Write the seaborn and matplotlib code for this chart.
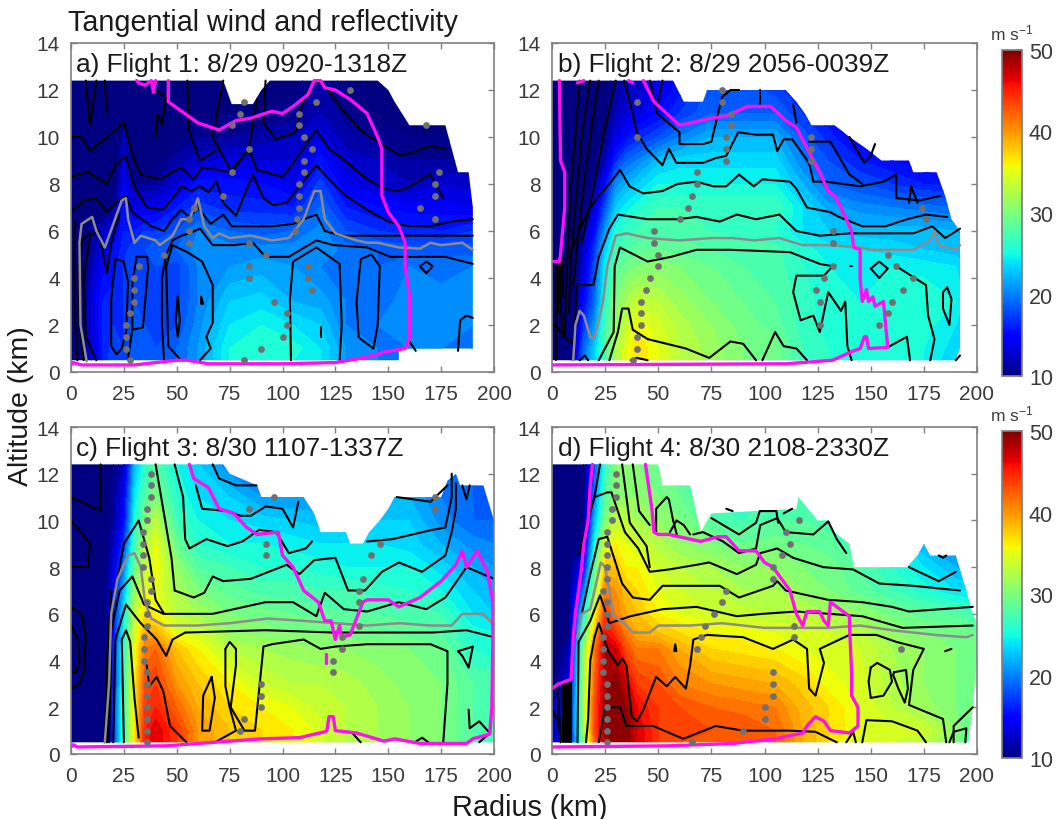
import numpy as np
import matplotlib
matplotlib.use('Agg')
import matplotlib.pyplot as plt
from matplotlib.patches import Polygon
from matplotlib.colors import Normalize
from matplotlib.cm import ScalarMappable
import seaborn as sns

sns.set_theme(style='ticks')
plt.rcParams['font.family'] = ['Liberation Sans', 'DejaVu Sans']
plt.rcParams['mathtext.default'] = 'regular'

# Grid the wind values were read on
radius = [0, 8, 15, 20, 25, 30, 35, 40, 50, 60, 75, 90, 105, 118, 130, 145, 160, 175, 190, 200]
altitude = [0.5, 1, 2, 3, 4.5, 5.2, 6, 7, 8, 9, 10, 11, 12.4]

wind_a = [
    [4, 12, 16, 18, 17, 19, 19, 18, 19, 21, 25, 26, 25, 24, 21, 20, 19, 19, 19, 19],
    [4, 12, 16, 17.5, 17, 18.5, 19, 18, 19, 21, 25, 26, 25.5, 24, 21, 20, 20, 20, 19, 19],
    [4, 12, 16, 17, 17, 18.5, 18, 18, 18, 20.5, 24, 25, 24, 23, 20, 20, 20.5, 20.5, 20, 20],
    [4, 12, 16, 16.5, 17, 18, 17.5, 18, 17.5, 20, 23, 23.5, 22, 21.5, 20, 19.5, 20.5, 20.5, 20.5, 20.5],
    [4, 11, 14.5, 15.5, 17, 18, 18, 18, 17.5, 20, 21, 21.5, 21, 20, 19.5, 19, 20, 19.5, 20, 20],
    [4, 10, 13.5, 15, 16.5, 18, 18, 19, 19, 20.5, 20.5, 20.5, 20.5, 21, 19.5, 19, 18.5, 18.5, 18.5, 18],
    [4, 11, 12.5, 13.5, 16, 16, 17, 17, 18, 20, 19, 18.5, 19, 20.5, 18, 17, 16.5, 16, 17, 17],
    [4, 8, 9, 10.5, 15.5, 13.5, 14, 14, 16, 17.5, 16.5, 16.5, 16, 19, 16, 15, 14.5, 14.5, 14, 14],
    [3, 7, 8, 9, 14, 11, 11, 11, 13, 15.5, 15.5, 15, 14, 17.5, 14, 13, 12, 13, 12.5, 12],
    [3, 6, 7, 8, 13, 9.5, 9, 9.5, 11.5, 12.5, 13.5, 13, 13, 15.5, 12.5, 12, 11, 11, 11, 10.5],
    [3, 6, 7, 7, 12, 8, 7.5, 8, 9.5, 11, 11, 11.5, 12, 13.5, 11.5, 11, 10, 10, 9, 9],
    [2, 5, 7, 6, 8, 7, 6, 7, 8, 9.5, 10, 10, 10.5, 12, 10.5, 9.5, 9, 9, 8, 8],
    [2, 5, 7, 6, 7, 6, 6, 6, 7, 8, 9, 9, 9.5, 11, 9.5, 9, 8, 8, 8, 8],
]
wind_b = [
    [5, 9, 20, 23, 27, 32, 35, 37, 35, 33, 31.5, 30, 29.5, 26.5, 26, 25.5, 25.5, 25, 23, 22],
    [5, 9, 19, 23, 28, 32, 35, 37, 35, 33, 31.5, 30, 29.5, 27, 26, 25.5, 25.5, 25, 23.5, 22],
    [5, 8, 17, 21, 27, 31, 33.5, 35.5, 34.5, 32.5, 31, 29.5, 28.5, 26.5, 25.5, 25, 25.5, 25.5, 24, 22.5],
    [5, 8, 15, 19, 26, 30, 32, 33.5, 33, 31.5, 30, 29, 28, 26.5, 25.5, 25, 25.5, 26, 25, 22.5],
    [5, 7, 13, 18, 24.5, 28, 29.5, 30, 30.5, 30, 29, 28, 27.5, 26, 25, 24.5, 25, 24.5, 24, 22],
    [4, 7, 12.5, 17, 23, 27, 28, 28.5, 29, 28.5, 28, 27.5, 27.5, 25.5, 24.5, 24, 23.5, 23, 22.5, 22],
    [4, 6, 11.5, 15, 21, 25.5, 26.5, 27, 27.5, 27.5, 27, 26.5, 26, 24, 23, 22.5, 22.5, 22.5, 22, 20],
    [3, 6, 10, 13, 18, 23, 24.5, 25.5, 27, 27, 27, 27, 27, 24, 21.5, 20.5, 20, 19.5, 19, 17.5],
    [3, 6, 9, 11, 15, 20.5, 22, 23, 25, 25, 25, 25, 25, 22, 19, 18, 17, 16, 16, 15],
    [3, 5, 8, 10, 12, 16.5, 19, 20, 22.5, 23.5, 23.5, 23.5, 23.5, 20, 18, 16, 15, 14, 13, 12],
    [3, 5, 7, 9, 10.5, 13.5, 15, 16.5, 18, 20, 22, 22, 22, 18.5, 16.5, 14, 12.5, 11, 10, 10],
    [2, 5, 7, 8, 9.5, 12, 13, 13.5, 15, 17, 19, 19, 19, 17, 15, 13, 11, 10, 10, 10],
    [2, 5, 7, 7, 9, 11, 12, 12, 14, 15, 18, 18, 17, 15, 14, 12, 10, 10, 10, 10],
]
wind_c = [
    [5, 5, 8, 17, 27, 36, 45, 47, 44, 40, 38, 37, 36, 34, 33, 32, 31, 30, 28, 28],
    [5, 5, 8, 17, 27, 36, 45, 47, 44, 40, 38, 37, 36, 34.5, 33, 32, 31, 30, 28, 28],
    [5, 5, 8, 17, 27, 36, 44, 45, 42, 39, 37, 36, 35, 33.5, 33, 32, 31, 30, 28, 28],
    [5, 4, 8, 16, 27, 36, 43, 44, 40, 38, 36, 34, 33, 33, 32.5, 31.5, 30.5, 30, 28, 28],
    [4, 4, 7, 16, 26, 35, 41, 42, 38, 36, 33, 32, 31.5, 31, 31, 30.5, 30, 29, 26, 25],
    [4, 3, 7, 15, 25, 34, 39, 39, 35, 34, 31, 30.5, 30, 30, 29.5, 29, 28.5, 28, 25.5, 25],
    [4, 4, 8, 15, 24, 33, 37, 36, 33, 32, 30, 29.5, 29, 28.5, 28, 28, 27.5, 27, 24, 23],
    [5, 6, 9, 14, 22, 31, 35, 35, 32, 30, 28.5, 27.5, 27.5, 27, 27, 26.5, 26, 25, 23, 22],
    [5, 8, 9, 13, 20, 29, 33, 36, 31, 28, 27, 26, 26, 25.5, 25, 25, 25, 23.5, 22, 21],
    [5, 7, 9, 12, 17, 27, 32, 35, 29, 26, 25, 25, 24.5, 24, 24, 24, 23.5, 22, 20.5, 20],
    [6, 7, 8, 11, 15, 25, 30, 33, 27, 25, 24, 23.5, 23, 22.5, 23, 23, 23, 20.5, 19, 19],
    [5, 7, 8, 11, 14, 24, 28, 30, 26, 24, 23, 21, 21, 21, 22, 22, 22, 20, 19, 18],
    [5, 6, 7, 10, 12, 22, 26, 28, 25, 23, 20, 20, 20, 20, 21, 21, 21, 20, 19, 18],
]
wind_d = [
    [12, 14, 30, 42, 48, 50, 50, 47, 44, 43, 43, 43, 42, 39, 37, 34, 34, 33, 30, 26],
    [12, 14, 32, 43, 49, 50, 50, 47, 44, 44, 43, 43, 42, 39, 37, 35, 34.5, 34, 31, 27],
    [12, 14, 32, 43, 49, 50, 49, 46, 44, 43, 42, 41.5, 41, 38.5, 37, 35, 33, 31.5, 30, 29],
    [10, 13, 32, 42, 48.5, 50, 47, 44, 43, 41, 40, 39.5, 39, 37.5, 35.5, 34.5, 32.5, 31, 30, 29],
    [8, 12, 31, 41, 48, 47, 43, 41, 41, 39, 37, 36.5, 36, 35, 34.5, 34, 32, 31, 30, 29],
    [8, 10, 28, 38, 46, 44, 41, 39, 38, 37, 36, 35.5, 35, 34.5, 34, 33, 31, 30, 29.5, 29],
    [8, 10, 25, 35, 44, 41, 39, 38, 36, 35, 34, 33.5, 33, 33, 32, 31, 29.5, 28.5, 28, 27],
    [8, 10, 20, 31, 41, 40, 38, 37, 35, 34, 33, 32, 32, 31, 30, 28.5, 27, 25.5, 24, 24],
    [8, 10, 15, 28, 38, 38, 36, 36, 34, 33, 32, 31, 31, 30, 29.5, 28, 26, 24, 22, 21],
    [6, 8, 12, 25, 34, 36, 35, 34, 32.5, 31, 30, 29, 29.5, 29, 28.5, 26.5, 25, 22, 20, 20],
    [6, 8, 10, 22, 30, 33, 33, 32, 31, 30, 28, 27, 28, 28, 27.5, 26, 25, 22, 20, 20],
    [6, 8, 10, 20, 28, 31, 31, 31, 30, 29, 26, 26, 27, 27, 26, 25, 24, 22, 20, 20],
    [6, 8, 10, 18, 26, 30, 30, 30, 30, 28, 26, 26, 26, 26, 25, 24, 23, 22, 20, 20],
]

# Outline of the sampled area (radius, altitude)
edge_a = [(0, 12.4), (72, 12.4), (76, 11.4), (86, 11.4), (90, 12), (94, 12.4), (145, 12.4), (150, 12), (153, 11.5),
          (160, 10.5), (177, 10.5), (180, 9.5), (183, 8.5), (188, 8.5), (190, 7), (190, 1), (155, 1), (155, 0.5), (0, 0.5)]
edge_b = [(0, 12.4), (57, 12.4), (62, 11.5), (71, 11.5), (73, 12), (110, 12), (115, 11.5), (119, 11), (122, 10.5),
          (133, 10.5), (140, 10), (148, 9.5), (155, 9), (168, 9), (170, 8.5), (181, 8.5), (185, 7.5), (188, 6.5),
          (192, 6), (192, 1), (190, 0.5), (0, 0.5)]
edge_c = [(0, 12.4), (72, 12.4), (75, 12), (88, 11.5), (90, 11), (110, 11), (115, 10.3), (118, 9.5), (130, 9.5),
          (132, 9), (138, 9), (141, 9.5), (146, 10), (150, 10.5), (153, 11), (175, 11), (178, 11.7), (182, 12),
          (184, 11.5), (195, 11.5), (200, 10), (200, 0.5), (0, 0.5)]
edge_d = [(0, 12.4), (50, 12.4), (52, 11.5), (65, 11.5), (70, 9.5), (75, 10.3), (115, 10.5), (116, 11), (125, 10),
          (130, 10), (133, 9.5), (140, 9), (142, 8), (167, 8), (172, 8.5), (175, 9), (178, 8.5), (190, 8.5), (195, 7),
          (198, 6), (200, 5.6), (200, 4), (198, 2), (196, 0.5), (0, 0.5)]

# Reflectivity contours, black
black_a = [
    [(44, .5), (43, 2), (43, 4), (45, 5), (48, 5.6), (52, 5.8), (56, 5.9), (61, 6.1), (67, 5.4), (77, 5.4), (86, 5.5), (92, 4.9),
     (103, 4.9), (116, 5.6), (124, 5.4), (140, 5.3), (151, 4.9), (168, 4.9), (177, 4.9), (190, 4.6)],
    [(0, 6.8), (6, 7.3), (12, 7.4), (17, 6.8), (21, 7.2), (26, 7.5), (29, 6.8), (32, 6.6), (38, 6.2), (44, 6), (48, 6.5), (52, 6.9),
     (56, 6.6), (60, 7), (66, 6.3), (72, 6.7), (76, 6.2), (85, 6.2), (95, 6.2), (105, 6.3), (110, 6.5), (116, 6.7), (120, 6),
     (128, 5.8), (150, 5.8), (175, 5.8), (190, 5.8)],
    [(0, 8.3), (8, 8.5), (17, 8), (21, 8.8), (26, 9.2), (30, 7.9), (36, 7), (43.6, 6.9), (52.3, 7.9), (57, 7.7), (61, 7.9), (65, 7.65),
     (68.8, 8.1), (72, 7.2), (78, 6.65), (86, 8.4), (91, 7.4), (95.6, 7.1), (102, 7.2), (108, 7.9), (116, 8.8), (122, 8.2), (130, 7.5),
     (140, 6.9), (150, 6.4), (160, 6.2), (170, 6.2), (180, 6.4), (190, 6.5)],
    [(0, 10), (5, 10), (9, 9.4), (16, 9.9), (25, 10.6), (30, 9), (33, 8.4), (42, 8.2), (52, 8.7), (58, 8.2), (62, 8.7), (70, 8.6),
     (75, 8.5), (84, 9.5), (88, 8.6), (100, 8.3), (106, 9), (116, 10.3), (122, 9.5), (128, 9.1), (140, 8.2), (148, 7.8), (155, 7.7),
     (160, 7.9), (170, 8.4), (176, 7.4)],
    [(7, 12.4), (9, 10.5), (12, 12.4)], [(16, 12.4), (17, 11)],
    [(40, 10), (41, 11), (43, 10.5), (45, 11.7), (40, 12)],
    [(55, 12.4), (56, 10.2), (61, 9), (70, 9.5)],
    [(72, 12.4), (67, 10), (76, 8.5), (84, 9.5), (88, 11.6)],
    [(92, 12.4), (91, 10.6), (97, 9.9), (106, 10.2), (110, 11.6), (115, 12.4)],
    [(116, 12.4), (120, 12.2), (128, 11.2), (138, 10.2), (156, 9.2), (170, 9.6), (177, 9.5)],
    [(46, 1.1), (45, 4.5), (48, 5.4), (55, 5.1), (62, 4.7), (67, 3.7), (67, 2.1), (64, 1.5), (66, 1), (61, .5)],
    [(46, 1.1), (51, .6), (52, .5)],
    [(21, 4.8), (19, 3.1), (19, 1.1), (21.5, .75), (24, 1), (26, 1.7), (27, 3.8), (25, 4.7), (21, 4.8)],
    [(31, 4.9), (36, 4.9), (36.5, 4.5), (34, 1.9), (29, 1.8), (27, .6)], [(31, 4.9), (29, 3.8), (29, 1.8)],
    [(50.5, 3.2), (51.5, 2.2), (50.5, 1.5), (49.5, 2.2), (50.5, 3.2)],
    [(61.5, 3.2), (62.5, 2.9), (61.5, 2.9), (61.5, 3.2)], [(118, 1.9), (118, 1.5)],
    [(104, .5), (103.5, 3.1), (105, 4.7), (116, 5.3), (127, 4.6), (128, 2), (127, .5)],
    [(136, 1.5), (135, 3), (137, 4.8), (142, 5), (146, 4.5), (145, 2), (143, 1), (137, 1.4), (136, 1.5)],
    [(165, 4.5), (168, 4.7), (171, 4.5), (168, 4.2), (165, 4.5)],
    [(183, .9), (184, 2.2), (187, 2.4), (190, 2.3)], [(160, 1.3), (163, .9)],
    [(3, .5), (2, 2), (1.5, 5), (2, 6.5)], [(6, .5), (4, 2), (3.5, 4), (5, 5.6), (9, 6)],
    [(12, .5), (7, 1.5), (6, 4), (9, 5.8), (13, 6), (17, 4.2), (19, 5.5), (23, 6.7)],
]
black_b = [
    [(22, .5), (29, 1.7), (29.5, 4.5), (32, 5.3), (45, 4.7), (56, 4.9), (68, 5.2), (84, 5.2), (112, 5.1), (126, 4.6), (132, 4.5),
     (128, 4.1), (115, 4.1), (113.5, 3.4), (117, 2.2), (123, 2.4), (126, 1.7), (130, 3.4), (136, 2.6), (138, 3), (139, 1.1), (141, .5)],
    [(162, 4.5), (176, 3.7), (177, 2.4), (180, 1.4), (178, .5)], [(140, 4.5), (141, 4.5)],
    [(150, 4.4), (154, 4.7), (158, 4.4), (154, 4), (150, 4.4)],
    [(186, 3.6), (188, 3.1), (187, 2), (184, 2.7), (184, 3.4), (186, 3.6)],
    [(27, .5), (31, 1.7), (33, 2.7), (36, 2.7), (38, 1.8), (45, 1.4), (63, 1), (74, .6), (84, 1.3), (90, 1.2), (96, .5)],
    [(99, .5), (105, 1.7), (109, 1.1), (115, 1), (120, .5)], [(157, 1), (167, 1.5), (168.5, .5)],
    [(37, .5), (40, .6), (45, .5)], [(13, .5), (15.5, .7), (17, .5)], [(190, .5), (192, .7)],
    [(1, 2), (7, 1.4), (10, 1.2), (11, 2.5), (12, 3.7), (19.5, 3.7), (22, 4.9), (27, 6.1), (31, 6.7), (45, 6.5), (59, 6.5), (68, 6.6),
     (79, 6.4), (87, 6.7), (96, 6.5), (107, 6.7), (115, 6), (126, 5.8), (140, 5.9), (170, 5.9), (179, 6.2), (185, 5.7), (192, 6.1)],
    [(8, 4.9), (16, 6.7), (21, 7.4), (27, 8), (32, 8.6), (36.5, 7.9), (43, 7.6), (52, 7.7), (59, 8), (68, 8.1), (76, 7.9), (82, 7.9),
     (88, 8.4), (95, 7.9), (99, 8.2), (112, 8.1), (115, 7.8), (120, 7), (131, 6.8), (135, 6.6), (146, 6.2), (157, 6.2), (167, 6.5),
     (176, 6.7), (186, 6.6)],
    [(34, 12.4), (38, 11), (40, 10.2), (44.5, 9.5), (52, 8.8), (55, 9.5), (58.5, 8.9), (71, 8.9), (77, 9.1), (82, 9.2), (87.6, 10.2),
     (96, 10.1), (104, 10.1), (106, 9.4), (109, 9.9), (113, 9.9), (121, 8.9), (123, 8.1), (129, 8.1), (145, 7.9), (156, 8.1),
     (162, 8.4), (162, 7.4), (173, 7.3), (183, 7.5)],
    [(46, 12.4), (49.5, 11), (60, 10.2), (60, 9.7), (71, 9.7), (75, 9.8), (80, 11.7), (84, 12), (88, 12)],
    [(98, 12), (98, 11.4)], [(113.5, 11.4), (115, 10.6)],
    [(140, 10), (147, 8.9), (150, 9.2), (152, 9.7)], [(121, 9.8), (131, 9.8), (140, 8.4), (146, 8)],
    [(168, 7.2), (169, 7.9), (172, 7.2)], [(52, 12.4), (50, 11.5)],
    [(6, 1.5), (7, 4.5), (9, 8), (11, 10), (13, 12.4)], [(8, 2.5), (9, 5), (12, 8), (14, 10), (18, 12.4)],
    [(10, 3.7), (12, 5.5), (15, 8), (18, 10), (22, 12.4)], [(14, 5.5), (20, 8), (24, 10), (30, 12.4)],
    [(2, 4.5), (2, .5)], [(3, 4.5), (3, 2.5)], [(4, 4.8), (4, 3), (5, 1.5)], [(5, 4.8), (5, 3.2)],
]
black_c = [
    [(25, .5), (24, 4.9), (26, 5.3), (28, 4.8), (30, 2.4), (32, .7)],
    [(20, .5), (21, 4.9), (26, 6.4), (33, 5.6), (40.5, 4.9), (45, 4.2), (48, 4.9), (54, 5.2), (92, 5.3), (124, 5.2), (171, 5.2),
     (187, 5.3), (200, 5)],
    [(18, .5), (19, 5.3), (23, 7), (29, 7.6), (34.5, 6.4), (43.7, 6), (67, 6), (92, 6.5), (105, 6.5), (116, 5.9), (120, 6.9), (129, 6.2),
     (140, 6.1), (155, 6.5), (168, 6.2), (177, 6.7), (187, 8), (200, 7.5)],
    [(17, .5), (19, 6), (25, 9), (32, 10), (37, 8.4), (40, 6.6), (44, 6)],
    [(40, 12.4), (47.5, 8.4), (49, 7), (58, 6.7), (63, 6.9), (67, 7.6), (72, 7.4), (85, 7.5), (102, 8.1), (108, 7.7), (115, 8.3),
     (125, 8.4), (131, 7), (139, 7), (147, 7.8), (155, 8.2), (166, 7.8), (177, 8.5), (180, 9.5), (182, 10.5), (182, 11.6)],
    [(49, 12.4), (53, 11), (54, 9.2), (56, 8.8), (64, 9.2), (74, 8.9), (81, 9.1), (89, 9.6), (97, 9.5), (103, 8.6), (111, 8.8), (114, 9.1)],
    [(140, 9.1), (152, 9.2), (171, 9.6), (177, 9.7), (180, 11), (180, 12)],
    [(59, 11.5), (62, 10.5), (74, 10.4), (80, 10.2), (85, 10.2), (92, 10.6), (100, 10.5), (105, 9.7), (107.5, 10.8)],
    [(67, 12.4), (70, 11.8), (78, 11.5), (87.7, 11.5)],
    [(154, 11), (170, 10.8), (178, 11.5)], [(185, 11.5), (187, 10.9), (188.5, 11.5)],
    [(66.5, 3.3), (68, 2.4), (65.5, 1), (62, 1), (62.5, 2.5), (66.5, 3.3)],
    [(73, 4.5), (75, 4.8), (78, 4.5), (78, 3.8), (75.5, 2), (82, 1), (87, 1), (91, 4.6), (95, 4.7), (110, 4.9), (118, 4.5), (125, 4.6),
     (140, 4.7), (170, 4.7), (178, 4.4), (178, 3), (176, .5)],
    [(73, 4.5), (73, 2.9), (75, 2), (78, 1), (68, .5)],
    [(35.8, 3.8), (37, 2.9), (40.5, 3.3), (43.6, 2.7), (46.8, 1.2), (54.6, .5)],
    [(183, 4.4), (190, 4.6), (188, 3.7), (185, 4.2), (183, 4.4)],
    [(188, 1.9), (188.5, 1.1), (193, 1.4), (198, .9), (193, .5)], [(133, .9), (137, .5)],
    [(162.5, .5), (166, .7), (169, .5)],
    [(0, 11), (14, 10.4), (14, 12.4)], [(0, 10), (9, 9), (8, 8), (0, 8)],
    [(0, 6.3), (5, 6), (7, 5), (6, 3.5), (4, 3), (0, 2.8)], [(0, 5.5), (3, 5), (4, 4), (2.5, 3.5), (0, 3.5)],
    [(16, .5), (17, 4), (19, 7)],
]
black_d = [
    [(16, .5), (17, 1.5), (18, 4), (20, 5), (22, 5.6), (26.5, 4.4), (31, 3.8), (33, 4.1), (35, 3.8), (37.5, 1.6), (40, 1.4), (43, 1.9),
     (49, 3.3), (54, 2.9), (58, 3.3), (63, 2.8), (65, 3.8), (66.5, 4.9), (73, 5.1), (90, 5), (104, 4.5), (113.5, 4.9), (120, 4.5),
     (121, 2.8), (124, 2.5), (128, 3.9), (126, 4.5), (140, 5.1), (152.6, 5.1), (162, 4.8), (175, 4.5), (170, 3.6), (168, 2.1), (184, 1.5),
     (185.5, .5)],
    [(22, .5), (25, 2), (32, 2), (35, 1.2), (47.6, 1.2), (61.8, .65), (77, 1.2), (90, 1), (112, 1), (124, .95), (134, .5)],
    [(12, .5), (12.5, 4.8), (18, 5.7), (22.6, 6.8), (27, 5.6), (37, 5.9), (52, 6.2), (68, 6.3), (87, 5.9), (99, 6), (115, 6.1), (146, 5.9),
     (165, 5.4), (198, 5.5)],
    [(14, 6), (18, 7.7), (22, 9.2), (26, 9.3), (33, 7.3), (38, 6.7), (46, 6.6), (52, 7.2), (68, 7.2), (79, 7.2), (88, 6.7), (104, 7.2),
     (106, 7.4), (110, 7), (130, 6.6), (146, 6.5), (160, 6.3), (168, 6.1), (198, 6.3)],
    [(12.4, 8.5), (20, 11), (26, 11.2), (28, 11.2), (34.3, 9.5), (40.6, 8.8), (46, 7.8), (55, 7.9), (68, 8.1), (74, 8.2), (87, 7.7),
     (96, 8.1), (98, 8.6), (106, 8.8), (113.5, 8.4), (127.6, 8), (141.7, 7.9), (154, 7.3), (170, 7.2), (192, 7)],
    [(38, 12.4), (41, 10.4), (46, 9.8)], [(22.6, 12.4), (20, 11)], [(33, 12.4), (36.6, 9.9), (44.5, 8.9), (46, 8)],
    [(49, 9.5), (49, 10.5), (54, 11), (55, 10.9), (57, 10), (59, 9.3)], [(55.5, 9.5), (58.6, 10), (62, 9.8), (65, 9.4)],
    [(66.5, 9.4), (71, 9.5), (80.5, 9.1), (88, 8.6), (96, 8.8), (98, 9.8), (106, 10.1), (110, 9.5), (123, 9.4), (130, 9.96), (134, 9.2),
     (138.5, 8.6)],
    [(75, 10.1), (88, 9.4), (96, 9.9), (97.8, 10.4), (105.6, 10.4), (106.4, 9.9)], [(82, 10.5), (85, 10.4)], [(109, 10.3), (113, 10.5)],
    [(150, 3.7), (153, 3.9), (159, 3.6), (160, 3.1), (156, 2.5), (150, 2.4), (149, 3.1), (150, 3.7)],
    [(161, 3.5), (166.6, 3.6), (167.5, 2.8), (166, 2.2), (163, 2.8), (160.5, 3.4), (161, 3.5)],
    [(146, .5), (148, 1.45), (160, 1.4), (172, 1), (176, .5)], [(138.5, .5), (141.7, .95), (143, .5)],
    [(189, .5), (189, 1.2), (198, 2)], [(187, .5), (189, .95), (195, 1.1), (194.5, .5)],
    [(57.5, 4.4), (58, 4.7), (58.5, 4.4)], [(185, 4.4), (188, 4.5)],
    [(168, 8), (182, 7.4), (190, 7.8)], [(182, 8.5), (184, 8.4), (185.5, 8.5)],
    [(5, .5), (5, 3)], [(6, .5), (6, 3.1)], [(7, .5), (7, 3.1)], [(8, .5), (8, 3.1)], [(9, .5), (9, 3.2)], [(0, 1.9), (3, 1.4), (4, .7)],
    [(2.5, 3), (3.5, 1.5), (4, .5)],
]

# Reflectivity contour, magenta
magenta_a = [[(0, .3), (1, .4), (5, .3), (30, .3), (50, .5), (55, .5), (65, .35), (100, .35), (125, .4), (135, .55),
              (145, .75), (148, .85), (158, 1), (160, 1.4), (160, 3.3), (158, 4.5), (158, 5.5), (155, 6.2), (150, 6.8),
              (147, 7.5), (147, 9.5), (145, 10), (140, 11), (132, 11.6), (125, 12), (120, 12.1), (118, 12.4),
              (115, 12.4), (112, 11.8), (105, 11.3), (100, 11), (95, 11.1), (85, 10.8), (78, 10.7), (70, 10.3),
              (60, 10.6), (46, 11.5), (46, 12.4)],
             [(31, 12.4), (32, 12.3), (35, 12.2), (38, 12.4), (39, 11.9), (40, 12.4)]]
magenta_b = [[(3.5, 12.4), (4, 9), (6, 8.5), (6, 7), (5.5, 6.5), (4, 5), (3.5, 4.7), (0, 4.7)],
             [(0, .3), (110, .35), (125, .45), (132, .5), (137, .7), (142, .9), (145, 1), (147, 1.5), (148, 1.5),
              (149, 1), (158, 1.05), (157, 2), (156, 3), (152, 2.8), (151, 3.2), (149, 3), (148, 3.5), (146, 3),
              (145, 4), (145, 5.2), (142, 5.3), (141, 6), (136, 7), (133, 7.5), (130, 7.7), (126, 8.5), (122, 9.2),
              (115, 10.4), (110, 10.7), (103, 11.3), (92, 11.3), (87, 11.1), (82, 10.9), (75, 10.8), (70, 10.7),
              (60, 10.5), (54, 11), (48, 11.5), (43, 12.4)],
             [(12, 12.3), (15, 12.4)], [(36, 12.4), (38, 12.3)]]
magenta_c = [[(0, .3), (1, .4), (3, .3), (45, .35), (60, .45), (90, .65), (108, .7), (120, .95), (121, 1), (122, 1.6),
              (124, 1.6), (125, 1), (135, .9), (148, .55), (153, .65), (165, .45), (187, .45), (190, .65), (198, .85),
              (199, 2), (199.5, 5), (199.5, 6.5), (197, 7.8), (192, 8.7), (187, 8), (185, 8.7), (182, 8.1), (175, 7.4),
              (165, 6.7), (155, 6.3), (150, 6.6), (140, 6.6), (138, 6.5), (132, 5.1), (128, 5), (127, 5.5), (125, 4.9),
              (123, 5.7), (120, 5.7), (117, 6.5), (110, 7), (105, 8), (100, 8.5), (98, 9.5), (88, 9.4), (83, 9.7),
              (77, 10.3), (70, 10.5), (65, 11.4), (58, 11.8), (56, 12.4)],
             [(120.5, 3.9), (120.5, 4.3)]]
magenta_d = [[(0, .3), (55, .35), (85, .45), (105, .65), (118, .9), (120, 1.2), (123, 1.5), (124, 1.6), (128, 1.4),
              (131, 1), (140, .9), (144, 1.2), (144, 2), (141, 2.5), (141, 3.5), (140, 5.5), (140, 5.9), (134, 6.3),
              (131, 6.5), (130, 5.5), (128, 5.7), (126, 6.1), (120, 6.1), (118, 5.5), (115, 6), (112, 7), (108, 7.5),
              (104, 8), (100, 8.2), (96, 8.7), (88, 8.7), (82, 9.3), (78, 9.3), (70, 9.1), (55, 9.4), (50, 9.4),
              (48, 9.5), (47, 10.5), (44, 12.4)],
             [(0, 2.8), (3, 3), (9, 3.2), (10, 5), (11, 6), (14, 8), (15, 9), (17, 10), (18, 11.5), (19, 12.4)]]

# Grey melting level line
grey_a = [(7.4, .45), (4.5, 2), (4, 5.5), (5, 6.3), (10, 6.6), (12, 6), (16, 5.3), (20, 6.3), (24, 7.3), (26, 7.4),
          (27, 6.5), (30, 5.5), (33, 5.8), (40, 5.6), (42, 5.4), (48, 5.8), (52, 6.5), (56, 6.5), (60, 7.4), (63, 6.2),
          (67, 5.7), (70, 5.9), (75, 5.7), (85, 5.8), (95, 5.6), (103, 5.7), (110, 6.5), (115, 7.7), (118, 7.7),
          (120, 6.5), (125, 5.9), (135, 5.6), (140, 5.5), (145, 5.5), (155, 5.3), (165, 5.25), (170, 5.5), (175, 5.4),
          (185, 5.5), (190, 5.2)]
grey_b = [(10, .5), (11, 2), (13, 2.6), (15, 2.4), (18, 1.5), (20, 1.4), (24, 3), (26, 4.5), (30, 5.8), (35, 5.9),
          (45, 5.7), (60, 5.6), (75, 5.7), (85, 5.7), (95, 5.6), (107, 5.7), (118, 5.4), (130, 5.4), (145, 5.3),
          (150, 5.2), (170, 5.2), (178, 5.6), (180, 6), (182, 5.4), (190, 5.2), (192, 5.4)]
grey_c = [(16, .5), (18, 3), (19, 6), (22, 7.5), (27, 8.5), (30, 8.6), (33, 8), (35, 6.5), (38, 5.8), (44, 5.5),
          (60, 5.5), (75, 5.6), (93, 5.8), (110, 5.7), (125, 5.6), (140, 5.5), (155, 5.6), (170, 5.5), (180, 5.5),
          (185, 6), (195, 6), (200, 5.5)]
grey_d = [(12, 5), (14, 6), (18, 6.2), (20, 7), (23, 8.2), (25, 8), (27, 7), (29, 5.9), (34, 5.6), (38, 5.2), (46, 5.2),
          (50, 5.5), (65, 5.5), (80, 5.6), (100, 5.4), (115, 5.4), (130, 5.4), (145, 5.5), (160, 5.3), (180, 5.1),
          (195, 5), (198, 5.1)]

# Dot markers
dots_a = [(28, .5), (26, 1), (26, 1.5), (26, 2), (28, 2.5), (30, 3), (30, 3.5), (30, 4), (32, 4.5), (44, 5), (56, 5.5),
          (56, 6), (56, 6.5), (58, 7), (72, 7.5), (76, 8.5), (84, 9.5), (76, 10.5), (80, 11), (82, 11.5), (106, 6),
          (107, 6.5), (108, 7), (108, 7.5), (108, 8), (110, 8.5), (110, 9), (114, 9.5), (110, 10), (108, 10.5),
          (108, 11), (116, 11.5), (132, 12), (168, 10.5), (174, 8.5), (172, 8), (172, 7.5), (165, 7), (172, 6.5),
          (84, 5.5), (84, 4.5), (84, 4), (92, 5), (96, 3), (112, 4.5), (112, 4), (114, 3.5), (102, 2.5), (102, 2),
          (100, 1.5), (90, 1), (82, .5)]
dots_b = [(38, .5), (40, 1), (40, 1.5), (42, 2), (42, 2.5), (42, 3), (44, 3.5), (46, 4), (50, 4.5), (50, 5), (48, 5.5),
          (48, 6), (60, 6.5), (64, 7), (66, 7.5), (68, 8), (68, 8.5), (82, 9), (82, 9.5), (82, 10), (84, 10.5), (84, 11),
          (80, 11.5), (80, 12), (40, 11.5), (40, 10), (122, 10), (122, 9.5), (122, 9), (132, 6), (132, 5.5), (132, 4.5),
          (128, 4), (124, 3.5), (126, 3), (126, 2), (158, 5), (162, 4.5), (170, 4), (165, 3.5), (160, 3), (158, 2.5),
          (154, 2), (174, 7), (176, 6.5)]
dots_c = [(36, .5), (36, 1), (36, 1.5), (36, 2), (36, 2.5), (36, 3), (36, 3.5), (34.5, 4), (34.5, 4.5), (34.5, 5),
          (36, 5.5), (36, 6), (36, 6.5), (38, 7), (38, 7.5), (34, 8), (34, 8.5), (34, 9), (34, 9.5), (36, 10),
          (36, 10.5), (38, 11), (38, 11.5), (38, 12), (80, 1), (82, 1.5), (90, 2), (90, 2.5), (90, 3), (84, 10.5),
          (96, 11), (92, 9), (92, 8.5), (124, 3.5), (124, 4), (128, 4.5), (128, 5), (136, 5.5), (136, 6.5), (136, 7),
          (138, 7.5), (142, 8.5), (146, 9), (172, 10.5), (172, 11)]
dots_d = [(26, .5), (26, 1), (26, 1.5), (26, 2), (26, 2.5), (26, 3), (24, 3.5), (24, 4), (24, 4.5), (24, 5), (26, 5.5),
          (26, 6), (26, 6.5), (24, 7), (26, 7.5), (26, 8), (26, 8.5), (26, 9), (26, 9.5), (28, 10), (28, 10.5), (30, 11),
          (30, 11.5), (30, 12), (66, .5), (68, 4.5), (70, 5), (72, 5.5), (76, 6), (80, 6.5), (82, 7), (90, 1), (100, 1.5),
          (100, 2), (104, 2.5), (104, 3), (104, 3.5), (104, 7.5), (104, 8), (108, 8.5), (112, 9), (110, 9.5), (116, 10),
          (114, 5), (114, 5.5), (164, 4.5)]

titles = ['a) Flight 1: 8/29 0920-1318Z', 'b) Flight 2: 8/29 2056-0039Z',
          'c) Flight 3: 8/30 1107-1337Z', 'd) Flight 4: 8/30 2108-2330Z']
fields = [wind_a, wind_b, wind_c, wind_d]
edges = [edge_a, edge_b, edge_c, edge_d]
blacks = [black_a, black_b, black_c, black_d]
magentas = [magenta_a, magenta_b, magenta_c, magenta_d]
greys = [grey_a, grey_b, grey_c, grey_d]
dots = [dots_a, dots_b, dots_c, dots_d]

W, H = 1057, 820
boxes = [(71, 44, 494, 373), (552, 44, 977, 373), (71, 428, 494, 755), (552, 428, 977, 755)]
text_col = '#3a3a3a'
edge_col = '#808080'


def px_axes(fig, x0, y0, x1, y1):
    return fig.add_axes([x0 / W, 1 - y1 / H, (x1 - x0) / W, (y1 - y0) / H])


def draw_line(ax, pts, color, lw):
    sns.lineplot(x=[p[0] for p in pts], y=[p[1] for p in pts], sort=False, estimator=None,
                 color=color, linewidth=lw, ax=ax)


fig = plt.figure(figsize=(W / 100, H / 100), dpi=100)

for i in range(4):
    ax = px_axes(fig, *boxes[i])
    cf = ax.contourf(radius, altitude, fields[i], levels=np.arange(10, 51, 1), cmap='jet', extend='both')
    clip = Polygon(edges[i], closed=True, transform=ax.transData, fc='none', ec='none')
    ax.add_patch(clip)
    cf.set_clip_path(clip)

    for part in blacks[i]:
        draw_line(ax, part, 'black', 1.5)
    draw_line(ax, greys[i], '#8c8c8c', 1.8)
    for part in magentas[i]:
        draw_line(ax, part, '#ff10f0', 2.4)
    sns.scatterplot(x=[p[0] for p in dots[i]], y=[p[1] for p in dots[i]], color='#707070', s=24,
                    linewidth=0, ax=ax, zorder=5)

    ax.set_xlim(0, 200)
    ax.set_ylim(0, 14)
    ax.set_xticks(range(0, 201, 25))
    ax.set_yticks(range(0, 15, 2))
    ax.tick_params(direction='in', top=True, right=True, length=4, width=1, color=edge_col,
                   labelsize=15, labelcolor=text_col)
    ax.tick_params(axis='x', pad=9)
    ax.tick_params(axis='y', pad=8)
    for s in ax.spines.values():
        s.set_color(edge_col)
        s.set_linewidth(1.2)
    ax.text(0.013, 0.935, titles[i], transform=ax.transAxes, fontsize=18.9, color='#1a1a1a', va='center')

for (y0, y1, ly) in [(51, 377, 33), (432, 759, 414)]:
    cax = px_axes(fig, 1002, y0, 1022, y1)
    cb = fig.colorbar(ScalarMappable(Normalize(10, 50), 'jet'), cax=cax, ticks=[10, 20, 30, 40, 50])
    cb.ax.tick_params(labelsize=15.5, labelcolor=text_col, length=3, color=edge_col, direction='in', pad=5)
    cb.outline.set_edgecolor(edge_col)
    fig.text(1012 / W, 1 - ly / H, 'm s$^{-1}$', fontsize=12.5, color=text_col, ha='center', va='center')

fig.text(68 / W, 1 - 23 / H, 'Tangential wind and reflectivity', fontsize=20.7, color='#1a1a1a', va='center')
fig.text(21 / W, 1 - 406 / H, 'Altitude (km)', fontsize=20.5, color='#1a1a1a', rotation=90, ha='center', va='center')
fig.text(530 / W, 1 - 808 / H, 'Radius (km)', fontsize=20.8, color='#1a1a1a', ha='center', va='center')

fig.savefig('out.png', dpi=100)
